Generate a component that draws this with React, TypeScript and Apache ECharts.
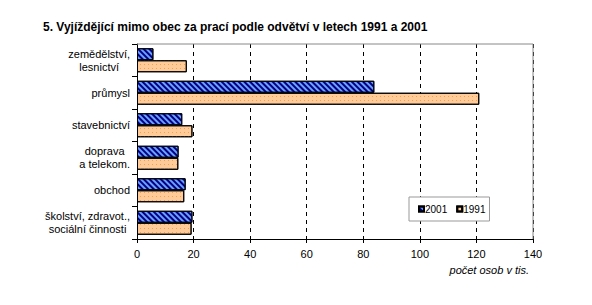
import React, { useEffect, useRef } from "react";
import * as echarts from "echarts";

const categories = [
  "zemědělství,\nlesnictví",
  "průmysl",
  "stavebnictví",
  "doprava\na telekom.",
  "obchod",
  "školství, zdravot.,\nsociální činnosti",
];
const values2001 = [5.8, 83.9, 16.0, 14.7, 17.2, 19.6];
const values1991 = [17.6, 121.0, 19.6, 14.6, 16.7, 19.3];
const xTicks = [0, 20, 40, 60, 80, 100, 120, 140];

const FONT = "'Liberation Sans', Arial, sans-serif";

export default function App() {
  const ref = useRef<HTMLDivElement>(null);
  useEffect(() => {
    if (!ref.current) return;
    const chart = echarts.init(ref.current, undefined, { renderer: "svg" });
    chart.setOption({
      animation: false,
      backgroundColor: "#ffffff",
      textStyle: { fontFamily: FONT },
      title: {
        text: "5. Vyjíždějící mimo obec za prací podle odvětví v letech 1991 a 2001",
        left: 38,
        top: 16,
        textStyle: { fontFamily: FONT, fontSize: 12, fontWeight: "bold", color: "#000" },
      },
      grid: { left: 137, right: 59, top: 44, bottom: 66, containLabel: false },
      legend: {
        left: 409,
        top: 197,
        orient: "horizontal",
        icon: "rect",
        itemWidth: 5,
        itemHeight: 5,
        itemGap: 9,
        padding: [7, 4, 7, 9],
        borderColor: "#999999",
        borderWidth: 1,
        backgroundColor: "#fff",
        textStyle: { fontFamily: FONT, fontSize: 10, color: "#000", padding: [0, 0, 0, -4] },
        data: ["2001", "1991"],
      },
      xAxis: {
        type: "value",
        min: xTicks[0],
        max: xTicks[xTicks.length - 1],
        interval: 20,
        axisLine: { show: true, lineStyle: { color: "#000", width: 1 } },
        axisTick: { show: true, length: 4, lineStyle: { color: "#000" } },
        axisLabel: { fontFamily: FONT, fontSize: 11, color: "#000", margin: 9 },
        splitLine: {
          show: true,
          lineStyle: { color: "#000", type: [4, 4], width: 1 },
        },
      },
      yAxis: {
        type: "category",
        data: categories,
        inverse: true,
        axisLine: { show: true, lineStyle: { color: "#000", width: 1 } },
        axisTick: { show: true, length: 5, lineStyle: { color: "#000" } },
        axisLabel: {
          fontFamily: FONT,
          fontSize: 11,
          color: "#000",
          margin: 7,
          align: "right",
          lineHeight: 13,
          formatter: (v: string) =>
            v
              .split("\n")
              .map((l) => `{c|${l}}`)
              .join("\n"),
          rich: {
            c: {
              align: "center",
              fontFamily: FONT,
              fontSize: 11,
              lineHeight: 13,
              color: "#000",
            },
          },
        },
      },
      graphic: [
        {
          type: "line",
          shape: { x1: 137, y1: 44, x2: 533, y2: 44 },
          style: { stroke: "#888888", lineWidth: 1 },
          z: 10,
        },
        {
          type: "line",
          shape: { x1: 533, y1: 44, x2: 533, y2: 239 },
          style: { stroke: "#888888", lineWidth: 1 },
          z: 10,
        },
        {
          type: "text",
          right: 63,
          top: 264,
          style: {
            text: "počet osob v tis.",
            font: `italic 11px ${FONT}`,
            fill: "#000",
          },
        },
      ],
      series: [
        {
          name: "2001",
          type: "bar",
          data: values2001,
          barWidth: 12,
          barGap: "0%",
          itemStyle: {
            color: "#6aa0ff",
            borderColor: "#000",
            borderWidth: 1,
            decal: {
              symbol: "rect",
              symbolSize: 1,
              color: "#000080",
              dashArrayX: [1, 0],
              dashArrayY: [1.5, 1.5],
              rotation: Math.PI / 4,
            },
          },
        },
        {
          name: "1991",
          type: "bar",
          data: values1991,
          barWidth: 12,
          barGap: "0%",
          itemStyle: {
            color: "#ffcc99",
            borderColor: "#000",
            borderWidth: 1,
            decal: {
              symbol: "rect",
              symbolSize: 1,
              color: "#f5a050",
              dashArrayX: [1, 3],
              dashArrayY: [1, 3],
              rotation: 0,
            },
          },
        },
      ],
    });
    return () => chart.dispose();
  }, []);
  return <div ref={ref} style={{ width: 592, height: 305, margin: -8 }} />;
}
